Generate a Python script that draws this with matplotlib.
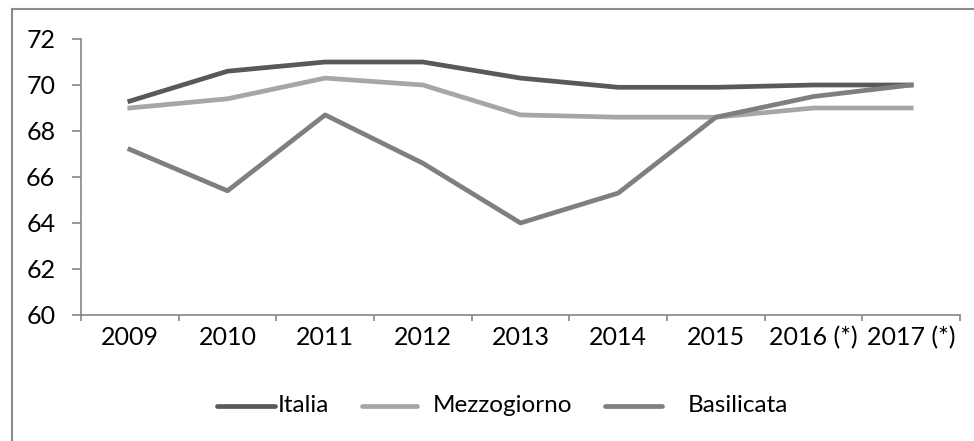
import numpy as np
import matplotlib.pyplot as plt
from matplotlib.lines import Line2D

plt.rcParams['font.family'] = ['Lato', 'DejaVu Sans']

# Data
years = ['2009', '2010', '2011', '2012', '2013', '2014', '2015', '2016 (*)', '2017 (*)']
italia = [69.3, 70.6, 71.0, 71.0, 70.3, 69.9, 69.9, 70.0, 70.0]
mezzogiorno = [69.0, 69.4, 70.3, 70.0, 68.7, 68.6, 68.6, 69.0, 69.0]
basilicata = [67.2, 65.4, 68.7, 66.6, 64.0, 65.3, 68.6, 69.5, 70.0]
series_names = ['Italia', 'Mezzogiorno', 'Basilicata']
colors = ['#595959', '#a6a6a6', '#7f7f7f']

W, H = 974, 441
fig = plt.figure(figsize=(W / 100, H / 100), dpi=100)
ax = fig.add_axes([81 / W, 1 - 315 / H, (960 - 81) / W, (315 - 39) / H])

x = np.arange(len(years))
for vals, name, c in zip([italia, mezzogiorno, basilicata], series_names, colors):
    ax.plot(x, vals, color=c, lw=3.4, label=name)

spine_col = '#868686'
ax.set_xlim(-0.5, len(years) - 0.5)
ax.set_ylim(60, 72)
ax.set_yticks(np.arange(60, 73, 2))
ax.set_xticks(x)
ax.set_xticklabels(years)
ax.set_xticks(np.arange(-0.5, len(years)), minor=True)

for s in ['top', 'right']:
    ax.spines[s].set_visible(False)
for s in ['left', 'bottom']:
    ax.spines[s].set_color(spine_col)
    ax.spines[s].set_linewidth(1.2)

ax.tick_params(axis='y', length=6.5, width=1.2, color=spine_col, pad=12, labelsize=18)
ax.tick_params(axis='x', which='major', length=0, pad=8, labelsize=18)
ax.tick_params(axis='x', which='minor', length=4, width=1.2, color=spine_col)

# legend laid out like the original (handle start, handle end, text start in px)
leg_pos = [(217, 275, 278), (362, 417, 433), (605, 662, 688)]
ly = 1 - 406 / H
for (h0, h1, t0), name, c in zip(leg_pos, series_names, colors):
    fig.add_artist(Line2D([h0 / W, h1 / W], [ly, ly], transform=fig.transFigure,
                          color=c, lw=3.4, solid_capstyle='round'))
    fig.text(t0 / W, ly, name, ha='left', va='center', fontsize=17.5)

# outer chart border (left and top visible)
fig.add_artist(Line2D([12 / W, 12 / W], [0, 1 - 9 / H], transform=fig.transFigure,
                      color='#8c8c8c', lw=1.5))
fig.add_artist(Line2D([12 / W, 1], [1 - 9 / H, 1 - 9 / H], transform=fig.transFigure,
                      color='#8c8c8c', lw=1.5))

fig.savefig('out.png', dpi=100)
